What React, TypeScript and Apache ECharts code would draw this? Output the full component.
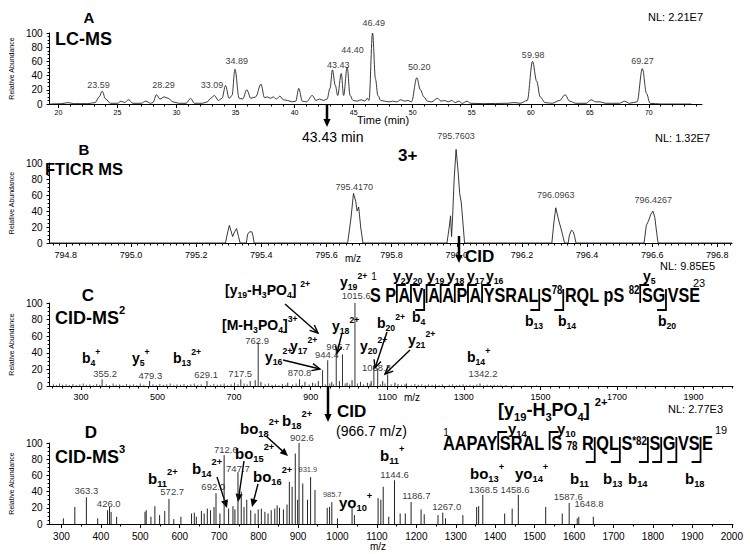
import React, { useEffect, useRef } from 'react';
import * as echarts from 'echarts';

const FONT = 'Liberation Sans';

// ---------------- Panel A : LC-MS chromatogram (time, relative abundance) ----------------
const lcTrace: number[][] = [
  [19.3, 0], [20.3, 0.5], [20.8, 2], [21.3, 0.5], [22.5, 0.5], [23.1, 2], [23.45, 10], [23.7, 18], [24.0, 7], [24.4, 1],
  [25.0, 1], [25.3, 4], [25.6, 2], [25.95, 6], [26.3, 1], [27.0, 1], [27.4, 4], [27.8, 1], [28.0, 2], [28.3, 13],
  [28.6, 7], [28.95, 10], [29.3, 8], [29.7, 3], [30.2, 1], [30.8, 1], [31.2, 8], [31.5, 1], [32.2, 1], [32.6, 3],
  [32.9, 8], [33.2, 12], [33.55, 5], [33.85, 8], [34.15, 26], [34.45, 8], [34.7, 12], [34.95, 49], [35.3, 8], [35.6, 7],
  [35.95, 20], [36.3, 8], [36.7, 10], [37.15, 28], [37.45, 9], [37.7, 10], [37.95, 8], [38.2, 10], [38.45, 7], [38.75, 11],
  [39.05, 6], [39.4, 5], [39.8, 3], [40.1, 4], [40.35, 22], [40.65, 4], [41.0, 3], [41.5, 12], [41.8, 5], [42.1, 7],
  [42.45, 5], [42.75, 7], [43.0, 22], [43.2, 48], [43.45, 26], [43.65, 12], [43.95, 43], [44.15, 12], [44.45, 52], [44.7, 12],
  [44.95, 5], [45.3, 4], [45.65, 6], [45.95, 4], [46.15, 8], [46.3, 5], [46.6, 100], [46.85, 35], [47.05, 12], [47.3, 5],
  [47.6, 4], [48.0, 3], [48.3, 4], [48.65, 3], [49.0, 6], [49.3, 4], [49.6, 5], [49.9, 3], [50.35, 37], [50.65, 20],
  [50.95, 10], [51.25, 4], [51.6, 3], [52.1, 8], [52.4, 4], [52.7, 5], [53.0, 3], [53.3, 5], [53.6, 2], [53.9, 4],
  [54.2, 1], [54.6, 4], [54.9, 1], [56.0, 0.5], [58.0, 1], [58.6, 2], [59.1, 1], [59.7, 5], [60.15, 60], [60.5, 32],
  [60.8, 10], [61.2, 2], [61.8, 1], [62.45, 5], [62.9, 13], [63.3, 4], [63.8, 1], [64.7, 1], [65.1, 6], [65.5, 3],
  [65.9, 3], [66.3, 1], [67.5, 1], [67.95, 4], [68.35, 1], [69.0, 3], [69.45, 50], [69.8, 15], [70.1, 1], [71.0, 0], [73.6, 0],
];
const lcPeakLabels: [number, number, string][] = [
  [23.4, 19, '23.59'], [28.9, 19, '28.29'], [33.0, 19, '33.09'], [35.1, 52, '34.89'], [43.7, 47, '43.43'],
  [44.9, 67, '44.40'], [46.7, 106, '46.49'], [50.55, 44, '50.20'], [60.2, 61, '59.98'], [69.47, 52, '69.27'],
];
const lcTicks = [20, 25, 30, 35, 40, 45, 50, 55, 60, 65, 70];

// ---------------- Panel B : FTICR MS profile (m/z, relative abundance) ----------------
const ftTrace: number[][] = [
  [794.75, 0], [795.29, 0], [795.297, 14], [795.302, 22], [795.307, 15], [795.312, 8], [795.318, 14], [795.324, 18],
  [795.33, 8], [795.335, 0], [795.354, 0], [795.358, 11], [795.364, 14], [795.371, 14], [795.375, 8], [795.378, 0],
  [795.665, 0], [795.675, 30], [795.683, 62], [795.69, 52], [795.694, 40], [795.699, 45], [795.705, 20], [795.712, 0],
  [795.97, 0], [795.977, 20], [795.981, 34], [795.984, 8], [795.987, 30], [795.992, 80], [795.998, 117], [796.004, 90],
  [796.009, 62], [796.014, 50], [796.019, 25], [796.024, 0],
  [796.292, 0], [796.298, 25], [796.304, 44], [796.312, 30], [796.322, 15], [796.331, 0],
  [796.342, 0], [796.346, 10], [796.352, 16], [796.358, 14], [796.362, 8], [796.366, 0],
  [796.575, 0], [796.582, 22], [796.588, 27], [796.596, 36], [796.602, 40], [796.608, 32], [796.614, 12], [796.618, 0],
  [796.845, 0],
];
const ftPeakLabels: [number, number, string][] = [
  [795.685, 63, '795.4170'], [795.998, 126, '795.7603'], [796.304, 53, '796.0963'], [796.603, 46, '796.4267'],
];
const ftTicks = [794.8, 795.0, 795.2, 795.4, 795.6, 795.8, 796.0, 796.2, 796.4, 796.6, 796.8];

// ---------------- Panel C : CID-MS2 stick spectrum ----------------
const ms2Peaks: number[][] = [
  [355.2, 8], [479.3, 6], [629.1, 6], [717.5, 8], [742, 6], [755, 7], [762.9, 52], [770, 5], [840, 4], [870.8, 8],
  [885, 5], [905, 4], [920, 6], [931, 19], [944.4, 31], [955, 5], [966.7, 44], [975, 6], [983, 38], [995, 4],
  [1008, 7], [1015.6, 100], [1030, 5], [1048, 4], [1058, 6], [1065, 25], [1075, 21], [1088, 6], [1101, 14],
  [1120, 4], [1150, 3], [1342.2, 3],
];
const ms2Noise: number[][] = [
  [228, 2], [236, 1], [244, 3], [252, 1.5], [261, 2], [270, 1], [279, 2.5], [288, 1], [297, 2], [306, 3], [314, 1.5],
  [323, 2], [332, 1], [341, 2.5], [349, 1.5], [366, 2], [375, 1], [384, 3], [392, 1.5], [401, 2], [410, 1], [419, 2.5],
  [428, 1.5], [437, 2], [446, 1], [455, 3], [464, 1.5], [488, 2], [497, 1], [506, 2.5], [515, 1.5], [524, 2], [533, 3],
  [542, 1], [551, 2], [560, 1.5], [569, 2.5], [578, 1], [587, 2], [596, 3], [605, 1.5], [614, 2], [638, 1], [647, 2.5],
  [656, 1.5], [665, 2], [674, 3], [683, 1], [692, 2], [701, 4], [710, 2], [726, 3], [734, 2], [781, 2], [790, 3],
  [799, 1.5], [808, 2], [817, 1], [826, 2.5], [835, 1.5], [853, 2], [862, 3], [878, 1.5], [896, 2], [912, 3], [938, 2],
  [950, 3], [960, 2], [990, 3], [1002, 2], [1022, 3], [1038, 2], [1055, 3], [1082, 2], [1094, 3], [1110, 2], [1128, 2.5],
  [1137, 1.5], [1146, 2], [1163, 1], [1172, 2.5], [1181, 1.5], [1190, 2], [1199, 1], [1208, 2], [1217, 1.5], [1226, 2],
  [1235, 1], [1244, 2], [1262, 1.5], [1271, 2], [1280, 1], [1289, 1.5], [1298, 2], [1307, 1], [1316, 1.5], [1325, 1],
  [1334, 2], [1352, 1], [1361, 1.5], [1370, 1], [1379, 1.5], [1388, 1], [1397, 1], [1410, 1], [1430, 0.8], [1460, 0.8], [1490, 0.8],
];
const ms2PeakLabels: [number, number, string][] = [
  [363, 7, '355.2'], [481, 5, '479.3'], [627, 6, '629.1'], [716, 7, '717.5'], [760, 47, '762.9'], [870.8, 8, '870.8'],
  [942, 30, '944.4'], [972, 40, '966.7'], [1019, 101, '1015.6'], [1072, 15, '1068.3'], [1350, 7, '1342.2'],
];
const ms2Ticks = [300, 500, 700, 900, 1100, 1300, 1500, 1700, 1900];

// ---------------- Panel D : CID-MS3 stick spectrum ----------------
const ms3Peaks: number[][] = [
  [305, 7], [334, 21], [363.3, 33], [392, 7], [417, 17], [422, 21], [426.0, 15], [440, 9], [512, 15], [515, 17],
  [527, 9], [537, 22], [549, 11], [562, 16], [572.7, 31], [585, 6], [603, 9], [630, 13], [637, 14], [642, 9],
  [655, 16], [662, 13], [670, 19], [678, 17], [687, 21], [692.0, 38], [702, 13], [712.6, 85], [724, 19], [735, 22],
  [740, 18], [747.7, 64], [756, 40], [763, 21], [770, 30], [780, 17], [791, 13], [799, 18], [807, 19], [816, 15],
  [824, 13], [832, 17], [841, 19], [847, 23], [853, 20], [863, 18], [872, 24], [878, 52], [885, 46], [893, 87],
  [899, 30], [902.6, 100], [912, 50], [924, 30], [931.9, 58], [943, 42], [974, 20], [980, 21], [985.7, 27], [1000, 7],
  [1037, 20], [1043, 11], [1103, 32], [1110, 30], [1116, 46], [1130, 9], [1144.6, 54], [1159, 13], [1172, 13],
  [1186.7, 27], [1212, 18], [1220, 12], [1255, 11], [1267.0, 14], [1274, 7], [1318, 11], [1353, 21], [1358, 22],
  [1368.5, 36], [1424, 13], [1443, 19], [1458.6, 36], [1528, 21], [1570, 13], [1587.6, 26], [1608, 7], [1612, 9], [1648.8, 9],
];
const ms3PeakLabels: [number, number, string, number?][] = [
  [363.3, 33, '363.3'], [420, 17, '426.0'], [581, 32, '572.7'], [685, 38, '692.0'], [717, 84, '712.6'], [747.7, 61, '747.7'],
  [910, 99, '902.6'], [925, 60, '931.9', 7.5], [987, 30, '985.7', 7.5], [1144.6, 53, '1144.6'], [1200, 27, '1186.7'],
  [1277, 14, '1267.0'], [1370, 35, '1368.5'], [1450, 35, '1458.6'], [1585, 26, '1587.6'], [1638, 17, '1648.8'],
];
const ms3Ticks = [300, 400, 500, 600, 700, 800, 900, 1000, 1100, 1200, 1300, 1400, 1500, 1600, 1700, 1800, 1900, 2000];

const yTicks = [0, 20, 40, 60, 80, 100];

// peptide sequences ('|y' = y-ion cleavage mark, '|b' = b-ion cleavage mark, '^' high small, '"' mid small, '~' low small)
const seqMS2 = ['S', ' ', 'P', '|y', 'A', '|y', 'V', '|b', '|y', 'A', '|y', 'A', '|y', 'P', '|y', 'A', '|y', 'YSRAL', '|b',
  'S', '^78', '|b', 'RQL', ' ', 'pS', ' ', '^82', '|y', 'SG', '|b', 'VSE'];
const seqMS3 = ['AAPAY', '|y', 'SRAL', ' ', '|y', 'S', ' ', '~78', ' ', 'R', '|b', 'QL', '|b', 'S', '"*82', '|b', 'S', '|b',
  'G', '|b', 'VS', '|b', 'E'];

// ---------------- helpers ----------------
function steps(a: number, b: number, step: number) {
  const out: number[] = [];
  const n = Math.round((b - a) / step);
  for (let i = 0; i <= n; i++) out.push(+(a + i * step).toFixed(4));
  return out;
}

let mctx: CanvasRenderingContext2D | null = null;
function tw(t: string, size: number, bold: boolean) {
  if (!mctx) mctx = document.createElement('canvas').getContext('2d');
  mctx!.font = `${bold ? 'bold ' : ''}${size}px "${FONT}"`;
  return mctx!.measureText(t).width;
}

function txt(x: number, y: number, t: string, fs: number, bold = false, align = 'left') {
  return {
    type: 'text', x, y, silent: true,
    style: {
      text: t, fontSize: fs, fontWeight: bold ? 'bold' : 'normal', fontFamily: FONT, fill: '#000',
      textAlign: align, align, textVerticalAlign: 'middle', verticalAlign: 'middle',
    },
  };
}

function parse(s: string) {
  const out: { t: string; k: string }[] = [];
  const re = /_\{([^}]*)\}|\^\{([^}]*)\}|([^_^]+)/g;
  let m: RegExpExecArray | null;
  while ((m = re.exec(s))) {
    if (m[1] !== undefined) out.push({ t: m[1], k: 'b' });
    else if (m[2] !== undefined) out.push({ t: m[2], k: 'p' });
    else out.push({ t: m[3], k: 'n' });
  }
  return out;
}

function rich(x: number, yc: number, s: string, size: number, bold = true) {
  const ss = size * 0.62;
  const items = parse(s).map((g) => {
    const fs = g.k === 'n' ? size : ss;
    return { ...g, fs, w: tw(g.t, fs, bold) };
  });
  let cx = x;
  return items.map((it) => {
    const dy = it.k === 'b' ? size * 0.38 : it.k === 'p' ? -size * 0.42 : 0;
    const el = txt(cx, yc + dy, it.t, it.fs, bold);
    cx += it.w;
    return el;
  });
}

function arrow(x1: number, y1: number, x2: number, y2: number, w: number, head: number, filled: boolean) {
  const a = Math.atan2(y2 - y1, x2 - x1);
  const bx = x2 - head * Math.cos(a);
  const by = y2 - head * Math.sin(a);
  const nx = -Math.sin(a) * head * 0.45;
  const ny = Math.cos(a) * head * 0.45;
  const els: any[] = [{
    type: 'line', silent: true,
    shape: { x1, y1, x2: filled ? bx : x2, y2: filled ? by : y2 },
    style: { stroke: '#000', lineWidth: w },
  }];
  if (filled) {
    els.push({ type: 'polygon', silent: true, shape: { points: [[x2, y2], [bx + nx, by + ny], [bx - nx, by - ny]] }, style: { fill: '#000' } });
  } else {
    els.push({ type: 'polyline', silent: true, shape: { points: [[bx + nx, by + ny], [x2, y2], [bx - nx, by - ny]] }, style: { stroke: '#000', lineWidth: w, fill: 'none' } });
  }
  return els;
}

function sequence(x0: number, base: number, toks: string[], size: number, target: number,
  geo: { yTop: number; bTop: number; bBot: number; bar: number }) {
  const small = size * 0.6;
  const kids: any[] = [];
  let cx = 0;
  const gap = 3;
  for (const t of toks) {
    if (t === '|y') {
      kids.push({ type: 'polyline', silent: true, shape: { points: [[cx + 1, base], [cx + 1, geo.yTop], [cx + 1 + geo.bar, geo.yTop]] }, style: { stroke: '#000', lineWidth: 2.2, fill: 'none' } });
      cx += gap;
    } else if (t === '|b') {
      kids.push({ type: 'polyline', silent: true, shape: { points: [[cx + 1, geo.bTop], [cx + 1, geo.bBot], [cx + 1 - geo.bar, geo.bBot]] }, style: { stroke: '#000', lineWidth: 2.2, fill: 'none' } });
      cx += gap;
    } else if (t[0] === '^' || t[0] === '"' || t[0] === '~') {
      const s = t.slice(1);
      const off = t[0] === '^' ? 0.66 : t[0] === '"' ? 0.45 : 0.22;
      kids.push(txt(cx, base - size * off, s, small, true));
      cx += tw(s, small, true);
    } else {
      kids.push(txt(cx, base - size * 0.36, t, size, true));
      cx += tw(t, size, true);
    }
  }
  return { type: 'group', x: x0, y: 0, scaleX: target / cx, children: kids };
}

function stick(color: string, w: number) {
  return (params: any, api: any) => {
    const x = api.value(0);
    const y = api.value(1);
    const p0 = api.coord([x, 0]);
    const p1 = api.coord([x, y]);
    return { type: 'line', shape: { x1: p0[0], y1: p0[1], x2: p1[0], y2: p1[1] }, style: { stroke: color, lineWidth: w } };
  };
}

function labelSeries(xi: number, yi: number, data: any[], fs: number) {
  return {
    type: 'scatter', xAxisIndex: xi, yAxisIndex: yi, symbolSize: 1, clip: false, silent: true,
    itemStyle: { color: 'rgba(0,0,0,0)' },
    data: data.map((d) => ({ value: [d[0], d[1]], name: d[2], label: d[3] ? { fontSize: d[3] } : undefined })),
    label: { show: true, position: 'top', distance: 1, formatter: '{b}', fontSize: fs, color: '#000', fontFamily: FONT },
    z: 5,
  };
}

function buildOption() {
  const panels = [
    { top: 33, height: 71, width: 662, min: 19.25, max: 74.5, major: lcTicks, minor: steps(20, 74, 1), fs: 7, margin: 5, fmt: (v: number) => String(v) },
    { top: 163, height: 80, width: 692, min: 794.75, max: 796.845, major: ftTicks, minor: steps(794.76, 796.84, 0.02), fs: 9, margin: 7, fmt: (v: number) => v.toFixed(1) },
    { top: 303, height: 83, width: 693, min: 218, max: 2003, major: ms2Ticks, minor: steps(225, 2000, 25), fs: 9, margin: 6, fmt: (v: number) => String(v) },
    { top: 443, height: 81, width: 693, min: 270, max: 2003, major: ms3Ticks, minor: steps(300, 2000, 50), fs: 10, margin: 7, fmt: (v: number) => String(v) },
  ];
  const grid = panels.map((p) => ({ left: 40, top: p.top, width: p.width, height: p.height }));
  const xAxis: any[] = [];
  panels.forEach((p, i) => {
    xAxis.push({
      gridIndex: i, type: 'value', min: p.min, max: p.max, position: 'bottom',
      axisLine: { show: true, onZero: false, lineStyle: { color: '#000', width: 1 } },
      axisTick: { show: true, customValues: p.major, length: 4, lineStyle: { color: '#000' } },
      axisLabel: { show: true, customValues: p.major, formatter: p.fmt, fontSize: p.fs, color: '#000', margin: p.margin, fontFamily: FONT },
      splitLine: { show: false },
    });
    xAxis.push({
      gridIndex: i, type: 'value', min: p.min, max: p.max, position: 'bottom',
      axisLine: { show: false, onZero: false },
      axisTick: { show: true, customValues: p.minor, length: 2.5, lineStyle: { color: '#000' } },
      axisLabel: { show: false },
      splitLine: { show: false },
    });
  });
  const yAxis = panels.map((p, i) => ({
    gridIndex: i, type: 'value', min: 0, max: 100, interval: 20,
    axisLine: { show: true, lineStyle: { color: '#000', width: 1 } },
    axisTick: { show: true, length: 3, lineStyle: { color: '#000' } },
    minorTick: { show: true, splitNumber: 4, length: 2, lineStyle: { color: '#000' } },
    axisLabel: { fontSize: 10, color: '#000', margin: 7, fontFamily: FONT, customValues: yTicks },
    splitLine: { show: false },
    name: 'Relative Abundance', nameLocation: 'middle', nameGap: 22, nameRotate: 90,
    nameTextStyle: { fontSize: 7, color: '#000', fontFamily: FONT },
  }));

  const series: any[] = [
    { type: 'line', xAxisIndex: 0, yAxisIndex: 0, data: lcTrace, symbol: 'none', smooth: 0.35, smoothMonotone: 'x', lineStyle: { color: '#222', width: 0.9 }, silent: true },
    labelSeries(0, 0, lcPeakLabels, 9),
    { type: 'line', xAxisIndex: 2, yAxisIndex: 1, data: ftTrace, symbol: 'none', clip: false, lineStyle: { color: '#222', width: 0.9 }, silent: true },
    labelSeries(2, 1, ftPeakLabels, 9),
    { type: 'custom', xAxisIndex: 4, yAxisIndex: 2, data: ms2Noise, encode: { x: 0, y: 1 }, renderItem: stick('#444', 0.9), silent: true },
    { type: 'custom', xAxisIndex: 4, yAxisIndex: 2, data: ms2Peaks, encode: { x: 0, y: 1 }, renderItem: stick('#333', 1), silent: true },
    labelSeries(4, 2, ms2PeakLabels, 9.5),
    { type: 'custom', xAxisIndex: 6, yAxisIndex: 3, data: ms3Peaks, encode: { x: 0, y: 1 }, renderItem: stick('#222', 1), silent: true },
    labelSeries(6, 3, ms3PeakLabels, 9.5),
  ];

  const els: any[] = [];
  const add = (a: any) => (Array.isArray(a) ? els.push(...a) : els.push(a));

  // Panel A annotations
  add(txt(89, 17, 'A', 15, true, 'center'));
  add(txt(55, 38.5, 'LC-MS', 18, true));
  add(txt(648, 17, 'NL: 2.21E7', 11));
  add(txt(357, 120, 'Time (min)', 11));
  add(arrow(327, 105, 327, 127, 2.5, 8, true));
  add(txt(302, 137, '43.43 min', 14));

  // Panel B annotations
  add(txt(84, 149, 'B', 15, true, 'center'));
  add(txt(45, 168.5, 'FTICR MS', 16.5, true));
  add(txt(398, 155, '3+', 17, true));
  add(txt(655, 138, 'NL: 1.32E7', 11));
  add(txt(353, 258, 'm/z', 10, false, 'center'));
  add(arrow(459, 236, 459, 263, 2.5, 8, true));
  add(txt(465, 256, 'CID', 17, true));
  add(txt(660, 266, 'NL: 9.85E5', 11));

  // Panel C annotations
  add(txt(88, 295, 'C', 17, true, 'center'));
  add(rich(55, 317.5, 'CID-MS^{2}', 18));
  add(rich(82, 358, 'b_{4}^{+}', 14));
  add(rich(132, 358, 'y_{5}^{+}', 14));
  add(rich(173, 358, 'b_{13}^{2+}', 14));
  add(rich(222, 325, '[M-H_{3}PO_{4}]^{3+}', 14));
  add(rich(225, 290, '[y_{19}-H_{3}PO_{4}] ^{2+}', 14));
  add(arrow(285, 304, 318, 333, 1.4, 8, false));
  add(rich(332, 326, 'y_{18}^{2+}', 14));
  add(arrow(342, 333, 337, 353, 1.4, 7, false));
  add(rich(340, 282, 'y_{19}^{2+}', 14));
  add(rich(290, 346, 'y_{17}^{2+}', 14));
  add(rich(265, 357, 'y_{16}^{2+}', 14));
  add(arrow(283, 360, 320, 369, 1.4, 8, false));
  add(rich(360, 346, 'y_{20}^{2+}', 14));
  add(rich(377, 323, 'b_{20}^{2+}', 14));
  add(arrow(387, 332, 375, 368, 1.4, 8, false));
  add(rich(408, 340, 'y_{21}^{2+}', 14));
  add(arrow(410, 350, 385, 374, 1.4, 8, false));
  add(rich(467, 357, 'b_{14}^{+}', 14));
  add(txt(412, 397, 'm/z', 10, false, 'center'));
  add(sequence(370, 303, seqMS2, 20, 330, { yTop: 285, bTop: 289, bBot: 310, bar: 11 }));
  add(txt(374, 276, '1', 10, false, 'center'));
  add(txt(699, 283, '23', 11, false, 'center'));
  add(rich(393, 276, 'y_{2}', 14));
  add(rich(405, 276, 'y_{20}', 14));
  add(rich(427, 276, 'y_{19}', 14));
  add(rich(447, 276, 'y_{18}', 14));
  add(rich(467, 276, 'y_{17}', 14));
  add(rich(486, 276, 'y_{16}', 14));
  add(rich(643, 276, 'y_{5}', 14));
  add(rich(412, 317, 'b_{4}', 14));
  add(rich(525, 321, 'b_{13}', 14));
  add(rich(558, 321, 'b_{14}', 14));
  add(rich(658, 321, 'b_{20}', 14));

  // Panel D annotations
  add(txt(91, 432, 'D', 17, true, 'center'));
  add(rich(55, 457, 'CID-MS^{3}', 18));
  add(arrow(328, 386, 328, 422, 2.5, 8, true));
  add(txt(337, 411, 'CID', 17, true));
  add(txt(336, 431, '(966.7 m/z)', 14));
  add(txt(668, 409, 'NL: 2.77E3', 11));
  add(rich(498, 410, '[y_{19}-H_{3}PO_{4}] ^{2+}', 18));
  add(rich(148, 478, 'b_{11}^{2+}', 15));
  add(rich(192, 468, 'b_{14}^{2+}', 15));
  add(arrow(217, 477, 227, 508, 1.4, 8, true));
  add(rich(235, 453, 'bo_{15}^{2+}', 15));
  add(arrow(244, 461, 238, 502, 1.4, 8, true));
  add(rich(253, 476, 'bo_{16}^{2+}', 15));
  add(arrow(258, 484, 252, 507, 1.4, 8, true));
  add(rich(240, 428, 'bo_{18}^{2+}', 15));
  add(arrow(266, 436, 288, 456, 1.4, 8, true));
  add(rich(282, 420, 'b_{18}^{2+}', 15));
  add(rich(339, 502, 'yo_{10}^{+}', 15));
  add(rich(380, 455, 'b_{11}^{+}', 15));
  add(rich(470, 473, 'bo_{13}^{+}', 15));
  add(rich(515, 473, 'yo_{14}^{+}', 15));
  add(txt(378, 546, 'm/z', 10, false, 'center'));
  add(sequence(443, 450, seqMS3, 20, 270, { yTop: 432, bTop: 437, bBot: 462, bar: 11 }));
  add(txt(446, 432, '1', 10, false, 'center'));
  add(txt(721, 430, '19', 11, false, 'center'));
  add(rich(508, 428, 'y_{14}', 15));
  add(rich(557, 428, 'y_{10}', 15));
  add(rich(570, 478, 'b_{11}', 15));
  add(rich(603, 478, 'b_{13}', 15));
  add(rich(628, 478, 'b_{14}', 15));
  add(rich(685, 478, 'b_{18}', 15));

  return {
    animation: false,
    backgroundColor: '#fff',
    textStyle: { fontFamily: FONT },
    grid, xAxis, yAxis, series,
    graphic: { elements: els },
  };
}

export default function App() {
  const ref = useRef<HTMLDivElement>(null);
  useEffect(() => {
    const chart = echarts.init(ref.current!, null, { renderer: 'svg' });
    chart.setOption(buildOption() as any);
    return () => chart.dispose();
  }, []);
  return <div ref={ref} style={{ position: 'fixed', left: 0, top: 0, width: 750, height: 554, background: '#fff' }} />;
}
